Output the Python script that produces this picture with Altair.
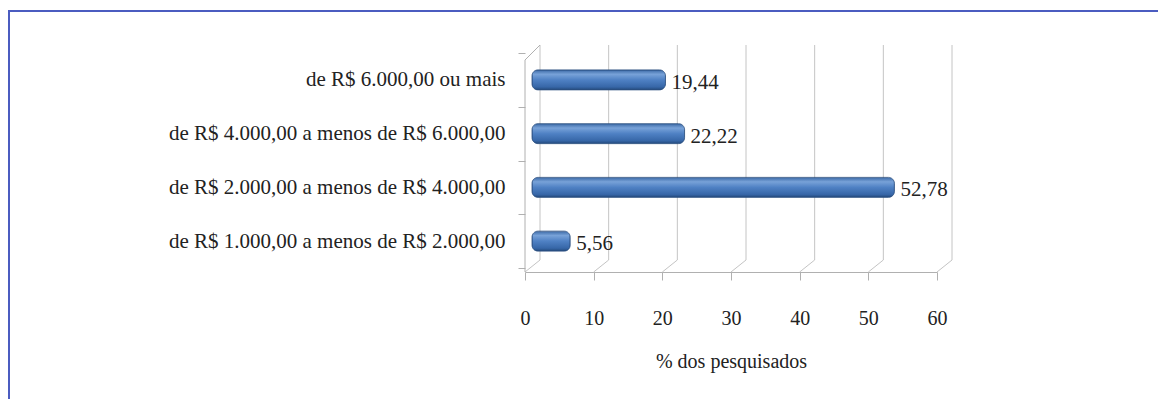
import altair as alt
import pandas as pd

categories = [
    "de R$ 6.000,00 ou mais",
    "de R$ 4.000,00 a menos de R$ 6.000,00",
    "de R$ 2.000,00 a menos de R$ 4.000,00",
    "de R$ 1.000,00 a menos de R$ 2.000,00",
]
values = [19.44, 22.22, 52.78, 5.56]
value_labels = ["19,44", "22,22", "52,78", "5,56"]
x_ticks = [0, 10, 20, 30, 40, 50, 60]
x_title = "% dos pesquisados"

df = pd.DataFrame({"cat": categories, "val": values, "lab": value_labels})
grid_df = pd.DataFrame({"v": x_ticks})
wall_df = pd.DataFrame({"v": [0]})

FONT = "Liberation Serif"
GRID = "#c4c4c4"
W, H = 412, 215
PL, PT = 517, 45
TOTAL_W, TOTAL_H = 1150, 391
DEPTH = 7  # bars sit halfway into the 3D depth

xscale = alt.Scale(domain=[0, 60], nice=False, zero=True)
xscale_bar = alt.Scale(domain=[0, 60], nice=False, zero=True, range=[DEPTH, W + DEPTH])
yscale = alt.Scale(paddingInner=0, paddingOuter=0)

bar_fill = alt.Gradient(
    gradient="linear", x1=0, y1=0, x2=0, y2=1,
    stops=[
        alt.GradientStop(offset=0, color="#3b69a6"),
        alt.GradientStop(offset=0.22, color="#78a2d8"),
        alt.GradientStop(offset=0.5, color="#4f81c4"),
        alt.GradientStop(offset=0.85, color="#3767a8"),
        alt.GradientStop(offset=1, color="#244a7c"),
    ],
)

y_enc = alt.Y(
    "cat:N",
    sort=categories,
    scale=yscale,
    axis=alt.Axis(
        title=None, domain=False, labelFont=FONT, labelFontSize=21,
        labelColor="#222", labelPadding=13, tickSize=7,
        tickColor="#b0b0b0", labelLimit=600, tickBand="extent",
    ),
)

bars = alt.Chart(df).mark_bar(
    size=20,
    cornerRadius=6,
    color=bar_fill,
    stroke="#2b4f80",
    strokeWidth=0.8,
).encode(
    x=alt.X("val:Q", scale=xscale_bar, axis=None),
    y=y_enc,
)

texts = alt.Chart(df).mark_text(
    align="left", baseline="middle", dx=6, dy=3,
    font=FONT, fontSize=21, color="#222",
).encode(x=alt.X("val:Q", scale=xscale_bar, axis=None), y=alt.Y("cat:N", sort=categories), text="lab:N")

grid_v = alt.Chart(grid_df).mark_rule(xOffset=15, color=GRID, strokeWidth=1).encode(
    x=alt.X(
        "v:Q",
        scale=xscale,
        axis=alt.Axis(
            values=x_ticks, title=x_title, grid=False, offset=4,
            labelFont=FONT, labelFontSize=20, labelColor="#222",
            labelPadding=28, labelFlush=False, tickSize=8, tickColor="#b0b0b0",
            domainColor="#b0b0b0", titleFont=FONT, titleFontSize=20,
            titleFontWeight="normal", titleColor="#222", titlePadding=23,
        ),
    ),
    y=alt.value(-8), y2=alt.value(207),
)
grid_d = alt.Chart(grid_df).mark_rule(xOffset=15, x2Offset=0, color=GRID, strokeWidth=1).encode(
    x=alt.X("v:Q", scale=xscale), x2="v", y=alt.value(207), y2=alt.value(219)
)
wall_front = alt.Chart(wall_df).mark_rule(color="#b0b0b0", strokeWidth=1).encode(
    x=alt.X("v:Q", scale=xscale), y=alt.value(7), y2=alt.value(219)
)
wall_top = alt.Chart(wall_df).mark_rule(xOffset=0, x2Offset=15, color="#b0b0b0", strokeWidth=1).encode(
    x=alt.X("v:Q", scale=xscale), x2="v", y=alt.value(7), y2=alt.value(-8)
)

border_top = alt.Chart(wall_df).mark_rule(color="#4b5cc0", strokeWidth=2).encode(
    x=alt.value(-PL), x2=alt.value(TOTAL_W - PL), y=alt.value(3 - PT)
)
border_left = alt.Chart(wall_df).mark_rule(color="#4b5cc0", strokeWidth=2).encode(
    x=alt.value(1 - PL), y=alt.value(2 - PT), y2=alt.value(TOTAL_H - PT + 10)
)

frame = alt.layer(grid_v, grid_d, wall_front, wall_top, border_top, border_left)
data_layer = alt.layer(bars, texts)

chart = alt.layer(frame, data_layer).resolve_scale(x="independent").properties(
    width=W, height=H,
    autosize=alt.AutoSizeParams(type="none"),
    padding={"left": PL, "top": PT, "right": TOTAL_W - PL - W, "bottom": TOTAL_H - PT - H},
    background="white",
).configure_view(strokeWidth=0)

chart.save("out.html", embed_options={"renderer": "svg", "actions": False})
